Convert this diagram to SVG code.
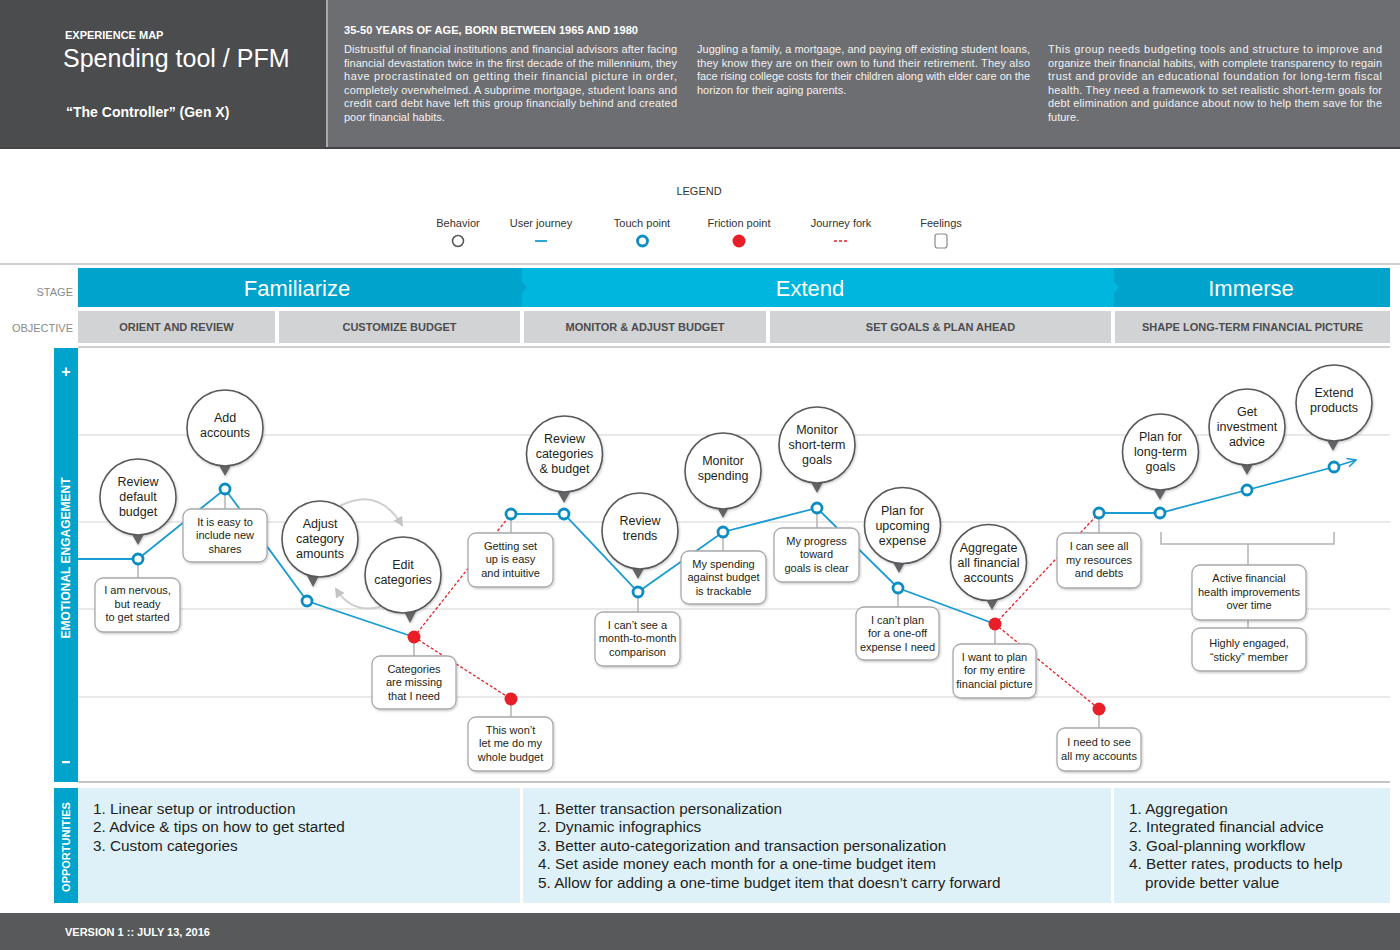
<svg xmlns="http://www.w3.org/2000/svg" width="1400" height="950" viewBox="0 0 1400 950">
<defs>
<style>
text{font-family:"Liberation Sans",Arial,Helvetica,sans-serif}
.hp{font-size:11px;fill:#f1f1f1}
.hb{font-size:11px;font-weight:bold;fill:#fff}
.lg{font-size:11px;fill:#333;text-anchor:middle}
.stg{font-size:22px;fill:#fff;text-anchor:middle}
.obj{font-size:11px;font-weight:bold;fill:#4d4d4f;text-anchor:middle}
.side{font-size:11px;fill:#8a8a8a;text-anchor:end}
.grid{stroke:#e9e9e9;stroke-width:2}
.bub circle{fill:#fff;stroke:#58595b;stroke-width:1.6}
.bub polygon{fill:#636466}
.bub text{font-size:12.5px;fill:#231f20;text-anchor:middle}
.box rect{fill:#fff;stroke:#a7a9ac;stroke-width:1.3}
.box text{font-size:11px;fill:#231f20;text-anchor:middle}
.tp{fill:#fff;stroke:#0b8dc4;stroke-width:2.8}
.fp{fill:#e81f27}
.jl{fill:none;stroke:#1a9bd1;stroke-width:1.8}
.fork{fill:none;stroke:#e81f27;stroke-width:1.3;stroke-dasharray:3 2}
.conn{stroke:#b3b3b3;stroke-width:1.5;fill:none}
.cyc{fill:none;stroke:#cfcfcf;stroke-width:2}
.opp{font-size:15.3px;fill:#231f20}
</style>
<filter id="sh" x="-20%" y="-20%" width="140%" height="140%">
<feDropShadow dx="0.8" dy="1.2" stdDeviation="1.2" flood-color="#000" flood-opacity="0.22"/>
</filter>
<marker id="ga" viewBox="0 0 10 10" refX="8" refY="5" markerWidth="5" markerHeight="5" orient="auto"><path d="M0 0 L10 5 L0 10z" fill="#c4c4c4"/></marker>
<marker id="ja" viewBox="0 0 10 10" refX="9" refY="5" markerWidth="6" markerHeight="6" orient="auto"><path d="M1 1 L9 5 L1 9" fill="none" stroke="#1a9bd1" stroke-width="1.5"/></marker>
</defs>

<rect x="0" y="0" width="1400" height="950" fill="#fff"/>

<!-- Header -->
<g id="header">
<rect x="0" y="0" width="326" height="149" fill="#4b4c4e"/>
<rect x="326" y="0" width="2" height="149" fill="#a7a9ac"/>
<rect x="328" y="0" width="1072" height="149" fill="#6d6e71"/>
<rect x="0" y="147" width="1400" height="2" fill="#444"/>
<text x="65" y="39" class="hb">EXPERIENCE MAP</text>
<text x="63" y="67" font-size="25" fill="#fff">Spending tool / PFM</text>
<text x="66" y="117" font-size="14" font-weight="bold" fill="#fff">“The Controller” (Gen X)</text>
<text x="344" y="34" class="hb" textLength="294" lengthAdjust="spacingAndGlyphs">35-50 YEARS OF AGE, BORN BETWEEN 1965 AND 1980</text>
<text class="hp" x="344" y="53" textLength="333" lengthAdjust="spacing">Distrustful of financial institutions and financial advisors after facing</text>
<text class="hp" x="344" y="66.5" textLength="333" lengthAdjust="spacing">financial devastation twice in the first decade of the millennium, they</text>
<text class="hp" x="344" y="80" textLength="333" lengthAdjust="spacing">have procrastinated on getting their financial picture in order,</text>
<text class="hp" x="344" y="93.5" textLength="333" lengthAdjust="spacing">completely overwhelmed. A subprime mortgage, student loans and</text>
<text class="hp" x="344" y="107" textLength="333" lengthAdjust="spacing">credit card debt have left this group financially behind and created</text>
<text class="hp" x="344" y="120.5">poor financial habits.</text>
<text class="hp" x="697" y="53" textLength="333" lengthAdjust="spacing">Juggling a family, a mortgage, and paying off existing student loans,</text>
<text class="hp" x="697" y="66.5" textLength="333" lengthAdjust="spacing">they know they are on their own to fund their retirement. They also</text>
<text class="hp" x="697" y="80" textLength="333" lengthAdjust="spacing">face rising college costs for their children along with elder care on the</text>
<text class="hp" x="697" y="93.5">horizon for their aging parents.</text>
<text class="hp" x="1048" y="53" textLength="334" lengthAdjust="spacing">This group needs budgeting tools and structure to improve and</text>
<text class="hp" x="1048" y="66.5" textLength="334" lengthAdjust="spacing">organize their financial habits, with complete transparency to regain</text>
<text class="hp" x="1048" y="80" textLength="334" lengthAdjust="spacing">trust and provide an educational foundation for long-term fiscal</text>
<text class="hp" x="1048" y="93.5" textLength="334" lengthAdjust="spacing">health. They need a framework to set realistic short-term goals for</text>
<text class="hp" x="1048" y="107" textLength="334" lengthAdjust="spacing">debt elimination and guidance about now to help them save for the</text>
<text class="hp" x="1048" y="120.5">future.</text>
</g>

<!-- Legend -->
<g id="legend">
<text x="699" y="195" class="lg">LEGEND</text>
<text x="458" y="227" class="lg">Behavior</text>
<circle cx="458" cy="241" r="5.5" fill="#fff" stroke="#555" stroke-width="1.5"/>
<text x="541" y="227" class="lg">User journey</text>
<line x1="535" y1="241" x2="547" y2="241" stroke="#1a9bd1" stroke-width="1.8"/>
<text x="642" y="227" class="lg">Touch point</text>
<circle cx="642.5" cy="241" r="5" class="tp"/>
<text x="739" y="227" class="lg">Friction point</text>
<circle cx="739" cy="241" r="6.5" class="fp"/>
<text x="841" y="227" class="lg">Journey fork</text>
<line x1="834" y1="241" x2="848" y2="241" class="fork"/>
<text x="941" y="227" class="lg">Feelings</text>
<rect x="935" y="234" width="12" height="14" rx="2.5" fill="#fff" stroke="#8a8a8a" stroke-width="1.2"/>
</g>

<!-- Stage and objective rows -->
<g id="stages">
<rect x="0" y="263" width="1400" height="2" fill="#cfcfcf"/>
<text x="73" y="296" class="side">STAGE</text>
<text x="73" y="332" class="side">OBJECTIVE</text>
<rect x="78" y="268" width="444" height="39" fill="#00a3cc"/>
<rect x="522" y="268" width="592" height="39" fill="#00b6de"/>
<rect x="1114" y="268" width="276" height="39" fill="#00a3cc"/>
<polygon points="522,282 527,287.5 522,293" fill="#00a3cc"/>
<polygon points="1114,282 1119,287.5 1114,293" fill="#00b6de"/>
<text x="297" y="296" class="stg">Familiarize</text>
<text x="810" y="296" class="stg">Extend</text>
<text x="1251" y="296" class="stg">Immerse</text>
<rect x="78" y="311" width="197" height="32" fill="#d1d3d4"/>
<rect x="279" y="311" width="241" height="32" fill="#d1d3d4"/>
<rect x="524" y="311" width="242" height="32" fill="#d1d3d4"/>
<rect x="770" y="311" width="341" height="32" fill="#d1d3d4"/>
<rect x="1115" y="311" width="275" height="32" fill="#d1d3d4"/>
<text x="176.5" y="331" class="obj">ORIENT AND REVIEW</text>
<text x="399.5" y="331" class="obj">CUSTOMIZE BUDGET</text>
<text x="645" y="331" class="obj">MONITOR &amp; ADJUST BUDGET</text>
<text x="940.5" y="331" class="obj">SET GOALS &amp; PLAN AHEAD</text>
<text x="1252.5" y="331" class="obj">SHAPE LONG-TERM FINANCIAL PICTURE</text>
<rect x="78" y="346" width="1312" height="2" fill="#cfcfcf"/>
</g>

<!-- Chart frame -->
<g id="chart-frame">
<rect x="54" y="348" width="24" height="434" fill="#00a3cc"/>
<text x="66" y="377" font-size="16" font-weight="bold" fill="#fff" text-anchor="middle">+</text>
<rect x="62" y="761" width="8" height="2.2" fill="#fff"/>
<text transform="translate(70.3,558) rotate(-90)" font-size="12" font-weight="bold" fill="#fff" text-anchor="middle">EMOTIONAL ENGAGEMENT</text>
<line x1="78" y1="435" x2="1390" y2="435" class="grid"/>
<line x1="78" y1="522" x2="1390" y2="522" class="grid"/>
<line x1="78" y1="609" x2="1390" y2="609" class="grid"/>
<line x1="78" y1="697" x2="1390" y2="697" class="grid"/>
<rect x="78" y="781" width="1312" height="2" fill="#c4c4c4"/>
</g>

<!-- Connectors -->
<g id="connectors">
<path class="jl" d="M78 559 L138 559 L225 489 L307 601 L414 637"/>
<path class="jl" d="M511 514 L564 514 L638 592 L723 532 L817 508 L898 588 L995 624"/>
<path class="jl" d="M1099 513 L1160 513 L1247 490 L1334 467"/>
<line class="jl" x1="1334" y1="467" x2="1356" y2="460" marker-end="url(#ja)"/>
<path class="fork" d="M414 637 L511 514"/>
<path class="fork" d="M414 637 L511 699"/>
<path class="fork" d="M995 624 L1099 513"/>
<path class="fork" d="M995 624 L1099 709"/>
<path class="cyc" d="M340 506 Q 378 486 402 525" marker-end="url(#ga)"/>
<path class="cyc" d="M380 607 Q 352 614 336 589" marker-end="url(#ga)"/>
<line class="conn" x1="138" y1="565" x2="138" y2="578"/>
<line class="conn" x1="225" y1="495" x2="225" y2="509"/>
<line class="conn" x1="414" y1="643" x2="414" y2="656"/>
<line class="conn" x1="511" y1="705" x2="511" y2="717"/>
<line class="conn" x1="511" y1="520" x2="511" y2="533"/>
<line class="conn" x1="638" y1="598" x2="638" y2="612"/>
<line class="conn" x1="723" y1="538" x2="723" y2="551"/>
<line class="conn" x1="817" y1="514" x2="817" y2="528"/>
<line class="conn" x1="898" y1="594" x2="898" y2="607"/>
<line class="conn" x1="995" y1="630" x2="995" y2="644"/>
<line class="conn" x1="1099" y1="715" x2="1099" y2="728"/>
<line class="conn" x1="1099" y1="519" x2="1099" y2="533"/>
<path class="conn" d="M1161 532 L1161 544 L1334 544 L1334 532" stroke="#c8c8c8"/>
<line class="conn" x1="1248" y1="544" x2="1248" y2="565" stroke="#c8c8c8"/>
<line class="conn" x1="1248" y1="620" x2="1248" y2="628" stroke="#c8c8c8"/>
</g>

<!-- Feeling boxes -->
<g id="f-nervous" class="box"><rect x="95" y="578" width="85" height="54" rx="8" filter="url(#sh)"/><text x="137.5" y="594">I am nervous,</text><text x="137.5" y="607.5">but ready</text><text x="137.5" y="621">to get started</text></g>
<g id="f-easy-shares" class="box"><rect x="183" y="509" width="84" height="53" rx="8" filter="url(#sh)"/><text x="225" y="525.5">It is easy to</text><text x="225" y="539">include new</text><text x="225" y="552.5">shares</text></g>
<g id="f-missing" class="box"><rect x="372" y="656" width="84" height="53" rx="8" filter="url(#sh)"/><text x="414" y="672.5">Categories</text><text x="414" y="686">are missing</text><text x="414" y="699.5">that I need</text></g>
<g id="f-setup" class="box"><rect x="468" y="533" width="85" height="54" rx="8" filter="url(#sh)"/><text x="510.5" y="549.5">Getting set</text><text x="510.5" y="563">up is easy</text><text x="510.5" y="576.5">and intuitive</text></g>
<g id="f-wont" class="box"><rect x="468" y="717" width="85" height="54" rx="8" filter="url(#sh)"/><text x="510.5" y="733.5">This won’t</text><text x="510.5" y="747">let me do my</text><text x="510.5" y="760.5">whole budget</text></g>
<g id="f-month" class="box"><rect x="595" y="612" width="85" height="54" rx="8" filter="url(#sh)"/><text x="637.5" y="628.5">I can’t see a</text><text x="637.5" y="642">month-to-month</text><text x="637.5" y="655.5">comparison</text></g>
<g id="f-trackable" class="box"><rect x="681" y="551" width="85" height="53" rx="8" filter="url(#sh)"/><text x="723.5" y="567.5">My spending</text><text x="723.5" y="581">against budget</text><text x="723.5" y="594.5">is trackable</text></g>
<g id="f-progress" class="box"><rect x="774" y="528" width="85" height="54" rx="8" filter="url(#sh)"/><text x="816.5" y="544.5">My progress</text><text x="816.5" y="558">toward</text><text x="816.5" y="571.5">goals is clear</text></g>
<g id="f-oneoff" class="box"><rect x="856" y="607" width="83" height="53" rx="8" filter="url(#sh)"/><text x="897.5" y="623.5">I can’t plan</text><text x="897.5" y="637">for a one-off</text><text x="897.5" y="650.5">expense I need</text></g>
<g id="f-entire" class="box"><rect x="953" y="644" width="83" height="54" rx="8" filter="url(#sh)"/><text x="994.5" y="660.5">I want to plan</text><text x="994.5" y="674">for my entire</text><text x="994.5" y="687.5">financial picture</text></g>
<g id="f-needsee" class="box"><rect x="1057" y="728" width="84" height="43" rx="8" filter="url(#sh)"/><text x="1099" y="746">I need to see</text><text x="1099" y="759.5">all my accounts</text></g>
<g id="f-seeall" class="box"><rect x="1057" y="533" width="84" height="55" rx="8" filter="url(#sh)"/><text x="1099" y="550">I can see all</text><text x="1099" y="563.5">my resources</text><text x="1099" y="577">and debts</text></g>
<g id="f-active" class="box"><rect x="1192" y="565" width="114" height="55" rx="8" filter="url(#sh)"/><text x="1249" y="582">Active financial</text><text x="1249" y="595.5">health improvements</text><text x="1249" y="609">over time</text></g>
<g id="f-sticky" class="box"><rect x="1192" y="628" width="114" height="43" rx="8" filter="url(#sh)"/><text x="1249" y="647">Highly engaged,</text><text x="1249" y="660.5">“sticky” member</text></g>

<!-- Behavior bubbles -->
<g id="b-review-default" class="bub" ><g filter="url(#sh)"><polygon points="130,531 146,531 138,545"/><circle cx="138" cy="497" r="38"/></g><text x="138" y="486">Review</text><text x="138" y="501">default</text><text x="138" y="516">budget</text></g>
<g id="b-add-accounts" class="bub"><g filter="url(#sh)"><polygon points="217,462 233,462 225,476"/><circle cx="225" cy="428" r="38"/></g><text x="225" y="422">Add</text><text x="225" y="437">accounts</text></g>
<g id="b-adjust" class="bub"><g filter="url(#sh)"><polygon points="305,572 321,572 313,587"/><circle cx="320" cy="539" r="38"/></g><text x="320" y="528">Adjust</text><text x="320" y="543">category</text><text x="320" y="558">amounts</text></g>
<g id="b-edit" class="bub"><g filter="url(#sh)"><polygon points="402,608 418,608 410,623"/><circle cx="403" cy="575" r="38"/></g><text x="403" y="569">Edit</text><text x="403" y="584">categories</text></g>
<g id="b-review-cat" class="bub"><g filter="url(#sh)"><polygon points="556,489 572,489 564,503"/><circle cx="564.5" cy="454" r="38"/></g><text x="564.5" y="443">Review</text><text x="564.5" y="458">categories</text><text x="564.5" y="473">&amp; budget</text></g>
<g id="b-trends" class="bub"><g filter="url(#sh)"><polygon points="630,565 646,565 638,579"/><circle cx="640" cy="531" r="38"/></g><text x="640" y="525">Review</text><text x="640" y="540">trends</text></g>
<g id="b-monitor-spending" class="bub"><g filter="url(#sh)"><polygon points="715,504 731,504 723,518"/><circle cx="723" cy="471" r="38"/></g><text x="723" y="465">Monitor</text><text x="723" y="480">spending</text></g>
<g id="b-monitor-goals" class="bub"><g filter="url(#sh)"><polygon points="809,479 825,479 817,493"/><circle cx="817" cy="445" r="38"/></g><text x="817" y="434">Monitor</text><text x="817" y="449">short-term</text><text x="817" y="464">goals</text></g>
<g id="b-upcoming" class="bub"><g filter="url(#sh)"><polygon points="891,559 907,559 899,573"/><circle cx="902.5" cy="525.5" r="38"/></g><text x="902.5" y="514.5">Plan for</text><text x="902.5" y="529.5">upcoming</text><text x="902.5" y="544.5">expense</text></g>
<g id="b-aggregate" class="bub"><g filter="url(#sh)"><polygon points="984,596 1000,596 992,610"/><circle cx="988.5" cy="562.5" r="38"/></g><text x="988.5" y="551.5">Aggregate</text><text x="988.5" y="566.5">all financial</text><text x="988.5" y="581.5">accounts</text></g>
<g id="b-longterm" class="bub"><g filter="url(#sh)"><polygon points="1152,486 1168,486 1160,500"/><circle cx="1160.5" cy="452" r="38"/></g><text x="1160.5" y="441">Plan for</text><text x="1160.5" y="456">long-term</text><text x="1160.5" y="471">goals</text></g>
<g id="b-invest" class="bub"><g filter="url(#sh)"><polygon points="1239,461 1255,461 1247,475"/><circle cx="1247" cy="427" r="38"/></g><text x="1247" y="416">Get</text><text x="1247" y="431">investment</text><text x="1247" y="446">advice</text></g>
<g id="b-extend" class="bub"><g filter="url(#sh)"><polygon points="1325,437 1341,437 1333,451"/><circle cx="1334" cy="403" r="38"/></g><text x="1334" y="397">Extend</text><text x="1334" y="412">products</text></g>

<!-- Touch and friction points -->
<g id="points">
<circle id="tp-a" cx="138" cy="559" r="5" class="tp"/>
<circle id="tp-b" cx="225" cy="489" r="5" class="tp"/>
<circle id="tp-c" cx="307" cy="601" r="5" class="tp"/>
<circle id="fp-d" cx="414" cy="637" r="6.5" class="fp"/>
<circle id="fp-e" cx="511" cy="699" r="6.5" class="fp"/>
<circle id="tp-f" cx="511" cy="514" r="5" class="tp"/>
<circle id="tp-g" cx="564" cy="514" r="5" class="tp"/>
<circle id="tp-h" cx="638" cy="592" r="5" class="tp"/>
<circle id="tp-i" cx="723" cy="532" r="5" class="tp"/>
<circle id="tp-j" cx="817" cy="508" r="5" class="tp"/>
<circle id="tp-k" cx="898" cy="588" r="5" class="tp"/>
<circle id="fp-l" cx="995" cy="624" r="6.5" class="fp"/>
<circle id="fp-m" cx="1099" cy="709" r="6.5" class="fp"/>
<circle id="tp-n" cx="1099" cy="513" r="5" class="tp"/>
<circle id="tp-o" cx="1160" cy="513" r="5" class="tp"/>
<circle id="tp-p" cx="1247" cy="490" r="5" class="tp"/>
<circle id="tp-q" cx="1334" cy="467" r="5" class="tp"/>
</g>

<!-- Opportunities -->
<g id="opportunities">
<rect x="54" y="788" width="24" height="115" fill="#00a3cc"/>
<text transform="translate(70,847) rotate(-90)" font-size="11" font-weight="bold" fill="#fff" text-anchor="middle">OPPORTUNITIES</text>
<rect x="78" y="788" width="442" height="115" fill="#dff1f8"/>
<rect x="523" y="788" width="588" height="115" fill="#dff1f8"/>
<rect x="1114" y="788" width="276" height="115" fill="#dff1f8"/>
<text class="opp" x="93" y="813.5">1. Linear setup or introduction</text>
<text class="opp" x="93" y="832">2. Advice &amp; tips on how to get started</text>
<text class="opp" x="93" y="850.5">3. Custom categories</text>
<text class="opp" x="538" y="813.5">1. Better transaction personalization</text>
<text class="opp" x="538" y="832">2. Dynamic infographics</text>
<text class="opp" x="538" y="850.5">3. Better auto-categorization and transaction personalization</text>
<text class="opp" x="538" y="869">4. Set aside money each month for a one-time budget item</text>
<text class="opp" x="538" y="887.5">5. Allow for adding a one-time budget item that doesn’t carry forward</text>
<text class="opp" x="1129" y="813.5">1. Aggregation</text>
<text class="opp" x="1129" y="832">2. Integrated financial advice</text>
<text class="opp" x="1129" y="850.5">3. Goal-planning workflow</text>
<text class="opp" x="1129" y="869">4. Better rates, products to help</text>
<text class="opp" x="1145" y="887.5">provide better value</text>
</g>

<!-- Footer -->
<g id="footer">
<rect x="0" y="913" width="1400" height="37" fill="#58595b"/>
<text x="65" y="936" font-size="11" font-weight="bold" fill="#fff">VERSION 1 :: JULY 13, 2016</text>
</g>
</svg>
